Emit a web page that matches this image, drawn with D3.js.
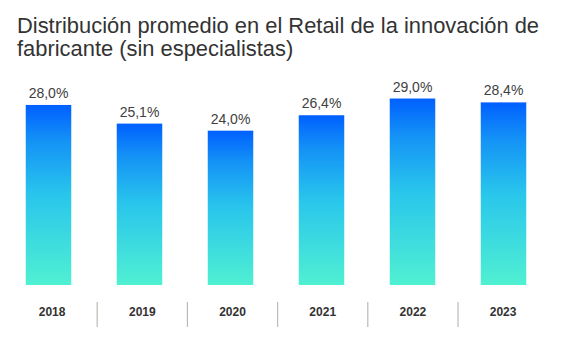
<!DOCTYPE html>
<html><head><meta charset="utf-8">
<script src="https://cdn.jsdelivr.net/npm/d3@7"></script>
<style>html,body{margin:0;padding:0;background:#fff;}svg{display:block;}</style>
</head><body>
<svg id="chart" width="573" height="347"></svg>
<script>
const titleLines = ["Distribución promedio en el Retail de la innovación de", "fabricante (sin especialistas)"];
const categories = ["2018", "2019", "2020", "2021", "2022", "2023"];
const values = [28.0, 25.1, 24.0, 26.4, 29.0, 28.4];
const valueLabels = ["28,0%", "25,1%", "24,0%", "26,4%", "29,0%", "28,4%"];

const svg = d3.select("#chart");
const font = "'Liberation Sans', Arial, sans-serif";

const defs = svg.append("defs");
const grad = defs.append("linearGradient").attr("id", "barGrad")
  .attr("x1", 0).attr("y1", 0).attr("x2", 0).attr("y2", 1);
[[0, "#0060FF"], [0.2, "#1492F6"], [0.5, "#29C6EC"], [1, "#50F0D2"]].forEach(([o, c]) =>
  grad.append("stop").attr("offset", o).attr("stop-color", c));

svg.append("g").selectAll("text").data(titleLines).join("text")
  .attr("x", 17).attr("y", (d, i) => 33 + i * 23)
  .attr("font-family", font).attr("font-size", 21.9).attr("fill", "#333")
  .text(d => d);

const x = d3.scaleBand().domain(categories).range([3, 549]).paddingInner(0.5).paddingOuter(0.25);
const y = d3.scaleLinear().domain([0, 30]).range([285, 92.1]);

svg.append("g").selectAll("rect").data(values).join("rect")
  .attr("x", (d, i) => x(categories[i]))
  .attr("y", d => y(d))
  .attr("width", x.bandwidth())
  .attr("height", d => y(0) - y(d))
  .attr("fill", "url(#barGrad)");

svg.append("g").selectAll("text").data(values).join("text")
  .attr("x", (d, i) => x(categories[i]) + x.bandwidth() / 2)
  .attr("y", d => y(d) - 7)
  .attr("text-anchor", "middle")
  .attr("font-family", font).attr("font-size", 14).attr("fill", "#404040")
  .text((d, i) => valueLabels[i]);

// category axis
const xa = d3.scaleBand().domain(categories).range([7, 548.2]);
const axis = d3.axisBottom(xa).tickSize(0).tickPadding(0);
const ag = svg.append("g").attr("transform", "translate(0,307)").call(axis);
ag.select(".domain").remove();
ag.selectAll("text").attr("font-family", font).attr("font-size", 12)
  .attr("font-weight", "bold").attr("fill", "#333").attr("dy", "0.71em");

svg.append("g").selectAll("line").data(categories.slice(1)).join("line")
  .attr("x1", d => xa(d)).attr("x2", d => xa(d))
  .attr("y1", 302).attr("y2", 327)
  .attr("stroke", "#bdbab2").attr("stroke-width", 1.2);
</script>
</body></html>
